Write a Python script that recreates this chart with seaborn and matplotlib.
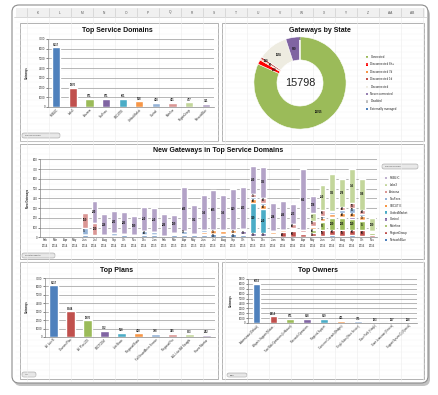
import numpy as np
import pandas as pd
import matplotlib
matplotlib.use("Agg")
import matplotlib.pyplot as plt
import seaborn as sns
from matplotlib.patches import FancyBboxPatch, Rectangle

W, H = 439, 395
sns.set_theme(style="white")
plt.rcParams["font.family"] = ["Liberation Sans", "DejaVu Sans"]

# ---------------- data ----------------
domains = ["PUBLIC", "Labs3", "Arizona", "TxuFees", "SBCUTIE", "UnifiedMarket",
           "Control", "Mainline", "RegionGroup", "NetworkBlue"]
domain_gateways = [6137, 1970, 871, 871, 801, 568, 418, 431, 477, 311]

states = ["Connected", "Disconnected 8h+", "Disconnected 7d", "Disconnected 1d",
          "Disconnected", "Never connected", "Disabled", "Externally managed"]
state_counts = [12915, 250, 60, 130, 1655, 780, 8, 0]
state_total = 15798

months = ["Feb", "Mar", "Apr", "May", "Jun", "Jul", "Aug", "Sep", "Oct", "Nov", "Dec",
          "Jan", "Feb", "Mar", "Apr", "May", "Jun", "Jul", "Aug", "Sep", "Oct", "Nov", "Dec",
          "Jan", "Feb", "Mar", "Apr", "May", "Jun", "Jul", "Aug", "Sep", "Oct", "Nov"]
years = ["2014"] * 11 + ["2015"] * 12 + ["2016"] * 11

new_networkblue = [0, 0, 0, 0, 25, 18, 15, 15, 20, 15, 20, 25, 5, 25, 20, 20, 25, 30, 25, 30, 25, 5, 5, 15, 5, 5, 5, 10, 15, 20, 15, 20, 15, 5]
new_regiongroup = [0, 0, 0, 0, 0, 0, 0, 0, 0, 0, 0, 0, 0, 0, 0, 0, 0, 0, 0, 0, 5, 5, 5, 10, 45, 60, 25, 30, 55, 60, 55, 60, 60, 20]
new_mainline = [0, 0, 0, 0, 0, 0, 0, 0, 0, 0, 0, 0, 0, 0, 0, 0, 0, 0, 0, 0, 0, 0, 0, 0, 0, 0, 0, 40, 90, 120, 125, 110, 95, 20]
new_control = [0, 0, 0, 0, 0, 0, 0, 0, 0, 0, 0, 0, 0, 0, 5, 5, 5, 5, 10, 10, 30, 30, 30, 5, 5, 5, 5, 10, 10, 10, 15, 15, 10, 5]
new_unifiedmarket = [0, 0, 0, 0, 0, 0, 0, 0, 0, 0, 0, 0, 0, 0, 0, 0, 0, 0, 0, 0, 0, 310, 250, 0, 0, 0, 0, 0, 0, 0, 0, 0, 0, 0]
new_sbcutie = [0, 0, 0, 0, 0, 0, 0, 0, 0, 0, 0, 0, 0, 5, 10, 0, 20, 35, 25, 30, 20, 40, 45, 20, 15, 20, 10, 20, 30, 25, 40, 45, 35, 5]
new_txufees = [0, 0, 0, 0, 75, 5, 5, 25, 15, 5, 45, 25, 5, 10, 30, 5, 25, 10, 15, 10, 10, 20, 20, 15, 10, 5, 5, 10, 20, 20, 25, 50, 25, 5]
new_arizona = [0, 0, 0, 0, 150, 120, 0, 0, 0, 0, 0, 0, 0, 0, 0, 0, 0, 0, 0, 0, 0, 35, 45, 0, 0, 40, 25, 50, 65, 10, 40, 50, 45, 5]
new_labs3 = [0, 0, 0, 0, 0, 0, 0, 0, 0, 0, 0, 0, 0, 0, 0, 0, 0, 0, 0, 0, 0, 0, 0, 0, 0, 0, 0, 76, 250, 385, 278, 355, 308, 130]
new_public = [0, 0, 0, 0, 5, 230, 216, 233, 225, 199, 250, 250, 226, 189, 455, 302, 356, 405, 356, 419, 423, 290, 325, 284, 296, 203, 622, 178, 2, 6, 2, 3, 2, 0]

plans = ["All Live B", "Domain Plan", "All Plan 200", "SBCTCEM", "Lite Basic",
         "Regional Basic", "Full SmartMeter Service", "Regional Pro",
         "ALL Live Bill Straight", "Home Monitor"]
plan_gateways = [6137, 3044, 1970, 702, 518, 418, 398, 345, 303, 242]

owners = ["Administrator (Default)", "Wayne's Support (Motion...", "Tom Web Operations (Leftbound)",
          "Research Operations", "Regional Support", "Customer Outreach (Bridges)",
          "Single Sales (Shoe Service)", "Dave Field (Haugh)", "Grant Leasecare (Service)",
          "Support System (1) (Special)"]
owner_gateways = [8052, 1418, 871, 828, 829, 411, 371, 183, 137, 128]

# ---------------- styles ----------------
pal10 = ["#4F81BD", "#C0504D", "#9BBB59", "#8064A2", "#4BACC6", "#F79646",
         "#95B3D7", "#DA9694", "#C3D69B", "#B3A2C7"]
state_colors = ["#9BBB59", "#FF0000", "#F79646", "#C0504D", "#EEECE1", "#8064A2", "#BFBFBF", "#4F81BD"]

fig = plt.figure(figsize=(W / 100, H / 100), dpi=100)
fig.patch.set_facecolor("white")


def rect(x0, y0, x1, y1):
    return [x0 / W, 1 - y1 / H, (x1 - x0) / W, (y1 - y0) / H]


bg = fig.add_axes([0, 0, 1, 1], zorder=0)
bg.set_xlim(0, W)
bg.set_ylim(H, 0)
bg.axis("off")

# sheet frame with shadow
bg.add_patch(FancyBboxPatch((14, 8), 416, 378, boxstyle="round,pad=0,rounding_size=7",
                            fc="#9a9a9a", ec="none", alpha=0.6))
bg.add_patch(FancyBboxPatch((12, 5), 416, 378, boxstyle="round,pad=0,rounding_size=7",
                            fc="white", ec="#8c8c8c", lw=0.8))
# header strip
bg.add_patch(Rectangle((16, 8), 409, 9, fc="#f0f0f0", ec="none"))
bg.plot([14, 427], [17, 17], color="#c8c8c8", lw=0.5)
cols = ["K", "L", "M", "N", "O", "P", "Q", "R", "S", "T", "U", "V", "W", "X", "Y", "Z", "AA", "AB"]
for k, c in enumerate(cols):
    bg.text(38 + 22 * k, 12.5, c, fontsize=2.3, ha="center", va="center", color="#555555")
for k in range(19):
    x = 27 + 22 * k
    bg.plot([x, x], [8, 17], color="#c8c8c8", lw=0.4)
    bg.plot([x, x], [17, 381], color="#ececec", lw=0.4)
for y in range(22, 382, 6):
    bg.plot([16, 425], [y, y], color="#f3f3f3", lw=0.3)

# panels
panels = [(20, 23, 218, 141), (222, 23, 424, 141), (20, 144, 424, 259),
          (20, 262, 218, 379), (222, 262, 424, 379)]
for (x0, y0, x1, y1) in panels:
    bg.add_patch(Rectangle((x0, y0), x1 - x0, y1 - y0, fc="white", ec="#a6a6a6", lw=0.6))


def pill(x0, y0, x1, y1, label):
    bg.add_patch(FancyBboxPatch((x0, y0), x1 - x0, y1 - y0,
                                boxstyle="round,pad=0,rounding_size=2",
                                fc="#e6e6e6", ec="#a0a0a0", lw=0.4))
    bg.text(x0 + 3, (y0 + y1) / 2, label, fontsize=1.6, va="center", color="#333333")


pill(22, 133, 60, 138, "Service domain")
pill(22, 253, 55, 258, "Creation month")
pill(382, 164, 418, 169, "Service domain")
pill(22, 372, 36, 377, "All")
pill(227, 373, 247, 377, "Plan")

title_kw = dict(fontsize=5, fontweight="bold", ha="center", va="center", color="#111111")
bg.text(117, 30, "Top Service Domains", **title_kw)
bg.text(320, 30, "Gateways by State", **title_kw)
bg.text(218, 150, "New Gateways in Top Service Domains", **title_kw)
bg.text(117, 270, "Top Plans", **title_kw)
bg.text(318, 270, "Top Owners", **title_kw)

ylab_kw = dict(fontsize=2, fontweight="bold", rotation=90, ha="center", va="center", color="#222222")
bg.text(27, 73, "Gateways", **ylab_kw)
bg.text(28, 198, "New Gateways", **ylab_kw)
bg.text(27, 307, "Gateways", **ylab_kw)
bg.text(231, 301, "Gateways", **ylab_kw)


def style_ax(ax, ymax, step):
    ax.set_facecolor("none")
    ax.set_ylim(0, ymax)
    ax.set_yticks(np.arange(0, ymax + 1, step))
    ax.yaxis.grid(True, color="#9a9a9a", lw=0.5)
    ax.xaxis.grid(False)
    ax.set_axisbelow(True)
    for s in ["top", "right"]:
        ax.spines[s].set_visible(False)
    for s in ["left", "bottom"]:
        ax.spines[s].set_color("#868686")
        ax.spines[s].set_linewidth(0.5)
    ax.tick_params(axis="y", labelsize=2, length=1.2, width=0.4, pad=0.6, left=True)
    ax.tick_params(axis="x", labelsize=2, length=0, pad=0.8)
    ax.set_xlabel("")
    ax.set_ylabel("")


def simple_bars(rect_px, names, vals, ymax, step, width, lbl_size):
    ax = fig.add_axes(rect(*rect_px), zorder=2)
    df = pd.DataFrame({"name": names, "value": vals})
    sns.barplot(data=df, x="name", y="value", hue="name", palette=pal10, legend=False,
                width=width, saturation=1, dodge=False, ax=ax)
    style_ax(ax, ymax, step)
    ax.set_xlim(-0.5, len(names) - 0.5)
    ax.set_xticks(range(len(names)))
    ax.set_xticklabels(names, rotation=45, ha="right", rotation_mode="anchor", fontsize=lbl_size)
    for i, v in enumerate(vals):
        ax.text(i, v + ymax * 0.012, str(v), ha="center", va="bottom", fontsize=2,
                fontweight="bold", color="#222222")
    return ax


simple_bars((48, 39, 214, 107), domains, domain_gateways, 7000, 1000, 0.5, 2)
simple_bars((45, 278, 215, 337), plans, plan_gateways, 7000, 1000, 0.5, 2)
simple_bars((248, 279, 417, 323), owners, owner_gateways, 9000, 1000, 0.45, 1.8)

# ---------- donut ----------
axd = fig.add_axes(rect(253, 36, 347, 130), zorder=2)
wedges, _ = axd.pie(state_counts, colors=state_colors, startangle=90, counterclock=False,
                    wedgeprops=dict(width=0.5, edgecolor="white", linewidth=0.4))
axd.set_xlim(-1.02, 1.02)
axd.set_ylim(-1.02, 1.02)
axd.set_aspect("equal")
label_r = [0.75, 0.62, 0.75, 0.88, 0.75, 0.75, 0.95, 0.75]
cum = 0
for cnt, r in zip(state_counts, label_r):
    if cnt > 0:
        mid = np.deg2rad(90 - 360 * (cum + cnt / 2) / state_total)
        axd.text(r * np.cos(mid), r * np.sin(mid), str(cnt), fontsize=2,
                 fontweight="bold", ha="center", va="center", color="#111111")
    cum += cnt
axd.text(0, 0, str(state_total), fontsize=7.8, ha="center", va="center", color="#222222")

for k, (s, c) in enumerate(zip(states, state_colors)):
    y = 57 + 7.4 * k
    bg.add_patch(Rectangle((366, y - 1.1), 2.2, 2.2, fc=c, ec="none"))
    bg.text(370.5, y, s, fontsize=2.1, va="center", color="#222222")

# ---------- stacked monthly ----------
axm = fig.add_axes(rect(40, 159.3, 377, 237.3), zorder=2)
series = [new_networkblue, new_regiongroup, new_mainline, new_control, new_unifiedmarket,
          new_sbcutie, new_txufees, new_arizona, new_labs3, new_public]
series_names = domains[::-1]
series_colors = pal10
month_labels = [f"{m}\n{y}" for m, y in zip(months, years)]
cums = np.cumsum(np.array(series), axis=0)
for k in range(len(series) - 1, -1, -1):
    dfk = pd.DataFrame({"month": month_labels, "value": cums[k]})
    sns.barplot(data=dfk, x="month", y="value", order=month_labels, color=series_colors[k],
                width=0.6, saturation=1, ax=axm)
style_ax(axm, 800, 100)
axm.set_xlim(-0.5, len(month_labels) - 0.5)
axm.set_xticks(range(len(month_labels)))
axm.set_xticklabels(month_labels, fontsize=2, linespacing=1.6)
for k, s in enumerate(series):
    for i, v in enumerate(s):
        if v >= 30:
            center = cums[k][i] - v / 2
            axm.text(i, center, str(v), fontsize=1.8, ha="center", va="center",
                     fontweight="bold", color="#111111")

for k in range(len(series) - 1, -1, -1):
    y = 178 + 6.9 * (len(series) - 1 - k)
    bg.add_patch(Rectangle((385, y - 1.1), 2.2, 2.2, fc=series_colors[k], ec="none"))
    bg.text(389.5, y, series_names[k], fontsize=2.1, va="center", color="#222222")

fig.savefig("out.png", dpi=100)
